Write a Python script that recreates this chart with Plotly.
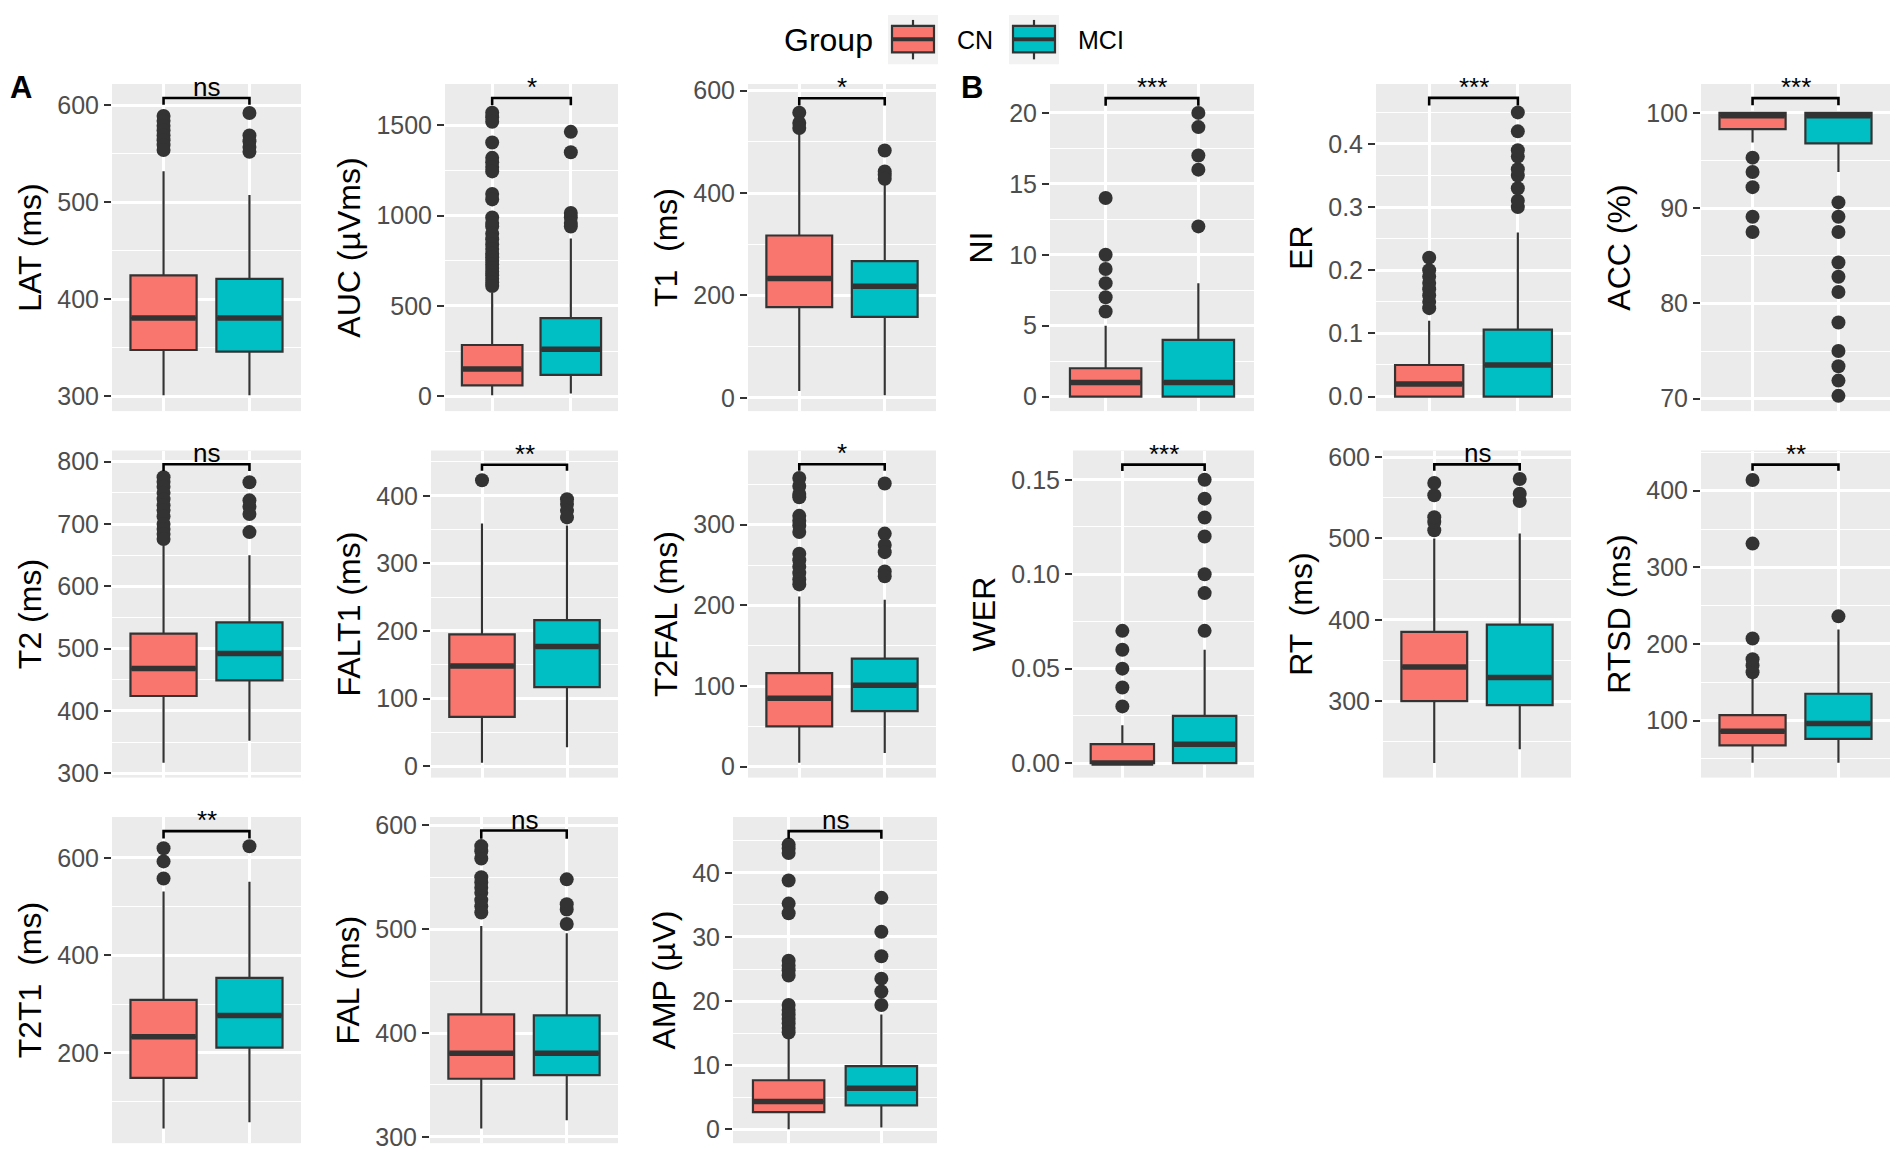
import plotly.graph_objects as go

# ---------------- data ----------------
variables = ["LAT", "AUC", "T1", "NI", "ER", "ACC",
             "T2", "FALT1", "T2FAL", "WER", "RT", "RTSD",
             "T2T1", "FAL", "AMP"]
ylabels = ["LAT (ms)", "AUC (µVms)", "T1  (ms)", "NI", "ER", "ACC (%)",
           "T2 (ms)", "FALT1 (ms)", "T2FAL (ms)", "WER", "RT  (ms)", "RTSD (ms)",
           "T2T1  (ms)", "FAL (ms)", "AMP (µV)"]
sig_labels = ["ns", "*", "*", "***", "***", "***",
              "ns", "**", "*", "***", "ns", "**",
              "**", "ns", "ns"]
groups = ["CN", "MCI"]
group_pos = [1, 2]

# CN box statistics
cn_q1 = [347.7, 60, 177, 0, 0.0, 98.3, 424, 73, 50, 0.0, 300, 67.5, 149, 356, 2.7]
cn_med = [380.6, 151, 233, 1, 0.02, 99.7, 468, 148, 85, 0.0, 342, 86, 233, 380.5, 4.34]
cn_q3 = [424.6, 284, 317, 2, 0.05, 100, 524, 195, 116, 0.01, 385, 107, 309, 418, 7.66]
cn_lo = [301, 5, 13, 0, 0.0, 96.9, 317, 5, 5, 0.0, 224, 45, 45, 308, 0]
cn_hi = [532, 573, 521, 5, 0.12, 100, 666, 359, 211, 0.02, 500, 155, 531, 503, 14.5]
cn_out = [
    [589, 584, 579, 574, 569, 564, 559, 554],
    [1570, 1545, 1520, 1405, 1320, 1295, 1270, 1245, 1120, 1090, 990, 960, 940, 900,
     870, 840, 815, 790, 770, 750, 730, 710, 690, 670, 650, 630, 610],
    [557, 537, 527],
    [6, 7, 8, 9, 10, 14],
    [0.14, 0.15, 0.16, 0.17, 0.18, 0.19, 0.20, 0.22],
    [95.3, 93.8, 92.2, 89.1, 87.5],
    [775, 768, 760, 750, 740, 730, 722, 712, 700, 692, 684, 676],
    [423],
    [358, 348, 338, 334, 311, 305, 299, 291, 264, 256, 248, 240, 232, 226],
    [0.03, 0.04, 0.05, 0.06, 0.07],
    [510, 520, 526, 553, 568],
    [163, 172, 180, 207, 331, 414],
    [558, 593, 620],
    [516, 522, 528, 535, 540, 545, 550, 568, 575, 580],
    [44.4, 43.8, 43.1, 38.8, 35.2, 33.7, 26.3, 25.5, 24.8, 24.0,
     19.4, 18.6, 17.9, 17.2, 16.5, 15.8, 15.1],
]

# MCI box statistics
mci_q1 = [346, 118, 158, 0, 0.0, 96.8, 449, 117, 69, 0.0, 295, 76, 211, 359.4, 3.73]
mci_med = [380.6, 260, 218, 1, 0.05, 99.7, 492, 177, 101, 0.01, 329, 96, 277, 380.5, 6.39]
mci_q3 = [421, 433, 267, 4, 0.106, 100, 542, 216, 134, 0.025, 394, 135, 354, 417, 9.86]
mci_lo = [301, 15, 5, 0, 0.0, 93.8, 352, 28, 17, 0.0, 241, 45, 58, 316, 0.3]
mci_hi = [507.6, 873, 417, 8, 0.26, 100, 650, 356, 207, 0.06, 506, 219, 551, 496, 17.9]
mci_out = [
    [592, 569, 563, 557, 552],
    [1464, 1351, 1015, 990, 960, 940],
    [483, 442, 435, 428],
    [12, 16, 17, 19, 20],
    [0.30, 0.31, 0.33, 0.35, 0.36, 0.38, 0.39, 0.42, 0.45],
    [90.6, 89.1, 87.5, 84.3, 82.8, 81.2, 78.0, 75.0, 73.4, 71.9, 70.3],
    [767, 738, 728, 716, 687],
    [395, 388, 378, 368],
    [351, 289, 275, 266, 242, 236],
    [0.07, 0.09, 0.10, 0.12, 0.13, 0.14, 0.15],
    [546, 555, 573],
    [236],
    [624],
    [505, 519, 524, 548],
    [19.4, 21.5, 23.5, 27.0, 30.8, 36.1],
]

# significance bracket levels (data units)
bracket_y = [607.5, 1651, 585, 21.04, 0.473, 101.55, 796, 446, 375, 0.158, 591, 434, 655, 595, 46.5]
bracket_tip = [600.5, 1611, 571, 20.5, 0.461, 100.8, 785, 437, 367, 0.1547, 583, 426, 640, 587, 45.3]

# y axis ranges, ticks
y_range = [[284.7, 622], [-82, 1729], [-26, 613], [-1.02, 22.04], [-0.023, 0.495], [68.7, 103.03],
           [293, 818], [-17, 467], [-13.5, 392], [-0.0077, 0.1655], [206, 608], [25.5, 452.5],
           [15, 684], [294, 608], [-2.15, 48.7]]
y_dtick = [100, 500, 200, 5, 0.1, 10, 100, 100, 100, 0.05, 100, 100, 200, 100, 10]
y_fmt = ["", "", "", "", ".1f", "", "", "", "", ".2f", "", "", "", "", ""]

# ---------------- layout geometry (pixels of the 1901x1170 page) ----------------
PAGE_W, PAGE_H = 1901, 1170
OFF = 8                      # default body margin of the html page (both sides)
W, H = PAGE_W - 2 * OFF, PAGE_H - 2 * OFF
panel_left = [112, 445, 748, 1050, 1376, 1701,
              112, 431, 748, 1073, 1383, 1701,
              112, 430, 733]
panel_right = [301, 618, 936, 1254, 1571, 1890,
               301, 618, 936, 1254, 1571, 1890,
               301, 618, 937]
row_top = [77, 449, 821]
row_bot = [409, 781, 1152]


def px(xv):
    return (xv - OFF) / W


def py(yv):
    return 1 - (yv - OFF) / H


FONT = "Liberation Sans, Arial, Helvetica, sans-serif"
colors = {"CN": "#F8766D", "MCI": "#00BFC4"}
DARK = "#333333"
BOX_W = 0.77

fig = go.Figure()
layout = {}
annotations = []
shapes = []

for i, var in enumerate(variables):
    s = "" if i == 0 else str(i + 1)
    xa, ya = "x" + s, "y" + s
    row = i // 6
    stats = {
        "CN": (cn_q1[i], cn_med[i], cn_q3[i], cn_lo[i], cn_hi[i], cn_out[i]),
        "MCI": (mci_q1[i], mci_med[i], mci_q3[i], mci_lo[i], mci_hi[i], mci_out[i]),
    }
    for g, pos in zip(groups, group_pos):
        q1, med, q3, lo, hi, out = stats[g]
        fig.add_trace(go.Box(
            x=[pos], q1=[q1], median=[med], q3=[q3], lowerfence=[lo], upperfence=[hi],
            width=BOX_W, whiskerwidth=0, fillcolor=colors[g],
            line=dict(color=DARK, width=2.2), boxpoints=False,
            xaxis=xa, yaxis=ya, showlegend=False, hoverinfo="skip", name=g))
        # thick median bar (ggplot fatten)
        fig.add_trace(go.Scatter(
            x=[pos - BOX_W / 2 + 0.01, pos + BOX_W / 2 - 0.01], y=[med, med], mode="lines",
            line=dict(color=DARK, width=5.5), xaxis=xa, yaxis=ya,
            showlegend=False, hoverinfo="skip"))
        # outliers
        fig.add_trace(go.Scatter(
            x=[pos] * len(out), y=out, mode="markers",
            marker=dict(color=DARK, size=14), xaxis=xa, yaxis=ya,
            showlegend=False, hoverinfo="skip"))
    # significance bracket
    fig.add_trace(go.Scatter(
        x=[group_pos[0], group_pos[0], group_pos[1], group_pos[1]],
        y=[bracket_tip[i], bracket_y[i], bracket_y[i], bracket_tip[i]],
        mode="lines", line=dict(color="black", width=2.6),
        xaxis=xa, yaxis=ya, showlegend=False, hoverinfo="skip"))
    annotations.append(dict(
        x=sum(group_pos) / 2, y=bracket_y[i], xref=xa, yref=ya, text=sig_labels[i],
        showarrow=False, yanchor="bottom", yshift=-6,
        font=dict(family=FONT, size=26, color="black")))

    layout["xaxis" + s] = dict(
        domain=[px(panel_left[i]), px(panel_right[i])], anchor=ya,
        range=[0.4, 2.6], tickvals=group_pos, showticklabels=False, ticks="",
        showgrid=True, gridcolor="white", gridwidth=2.5, zeroline=False,
        showline=False, fixedrange=True)
    layout["yaxis" + s] = dict(
        domain=[py(row_bot[row]), py(row_top[row])], anchor=xa,
        range=y_range[i], tickmode="linear", tick0=0, dtick=y_dtick[i],
        tickformat=y_fmt[i],
        ticks="outside", ticklen=7, tickwidth=2.2, tickcolor=DARK,
        tickfont=dict(family=FONT, size=25, color="#4D4D4D"),
        showgrid=True, gridcolor="white", gridwidth=2.5, zeroline=False,
        minor=dict(tick0=0, dtick=y_dtick[i] / 2, showgrid=True,
                   gridcolor="white", gridwidth=1.2, ticks=""),
        showline=False, fixedrange=True,
        title=dict(text=ylabels[i], font=dict(family=FONT, size=32, color="black"),
                   standoff=6))

# ---------------- legend (drawn manually, ggplot style) ----------------
annotations.append(dict(x=px(782), y=py(32), xref="paper", yref="paper", text="Group",
                        showarrow=False, xanchor="left", yanchor="middle",
                        font=dict(family=FONT, size=32, color="black")))
legend_keys = [(888, "CN", 955), (1009, "MCI", 1076)]
for kx, g, tx in legend_keys:
    shapes.append(dict(type="rect", xref="paper", yref="paper",
                       x0=px(kx), x1=px(kx + 50), y0=py(57), y1=py(7),
                       fillcolor="#F2F2F2", line=dict(width=0), layer="below"))
    cx = kx + 25
    shapes.append(dict(type="line", xref="paper", yref="paper",
                       x0=px(cx), x1=px(cx), y0=py(52), y1=py(12),
                       line=dict(color=DARK, width=2.2)))
    shapes.append(dict(type="rect", xref="paper", yref="paper",
                       x0=px(kx + 4), x1=px(kx + 46), y0=py(45), y1=py(18),
                       fillcolor=colors[g], line=dict(color=DARK, width=2.2)))
    shapes.append(dict(type="line", xref="paper", yref="paper",
                       x0=px(kx + 4), x1=px(kx + 46), y0=py(31.5), y1=py(31.5),
                       line=dict(color=DARK, width=4)))
    annotations.append(dict(x=px(tx), y=py(32), xref="paper", yref="paper", text=g,
                            showarrow=False, xanchor="left", yanchor="middle",
                            font=dict(family=FONT, size=25, color="black")))

# panel tags
for tag, cx in [("A", 20.5), ("B", 972)]:
    annotations.append(dict(x=px(cx), y=py(81), xref="paper", yref="paper",
                            text="<b>" + tag + "</b>", showarrow=False,
                            xanchor="center", yanchor="middle",
                            font=dict(family=FONT, size=31, color="black")))

fig.update_layout(
    width=W, height=H, margin=dict(l=0, r=0, t=0, b=0),
    paper_bgcolor="white", plot_bgcolor="#EBEBEB",
    showlegend=False, annotations=annotations, shapes=shapes,
    font=dict(family=FONT), **layout)

fig.write_html("out.html")
